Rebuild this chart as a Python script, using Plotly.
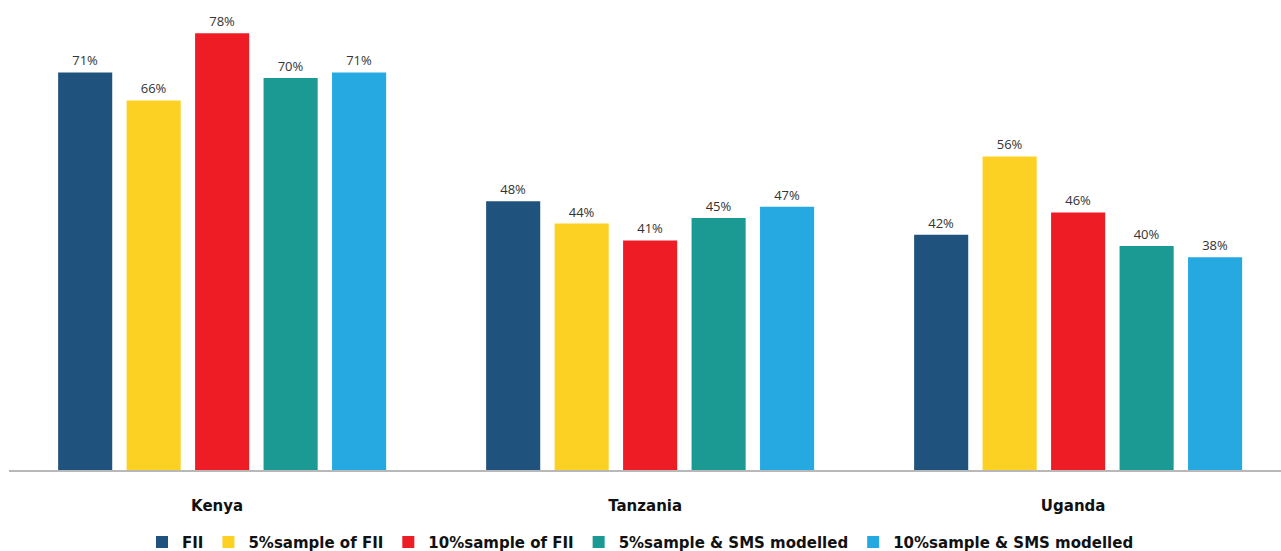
import plotly.graph_objects as go

countries = ["Kenya", "Tanzania", "Uganda"]
series_names = ["FII", "5%sample of FII", "10%sample of FII",
                "5%sample & SMS modelled", "10%sample & SMS modelled"]
fii = [71, 48, 42]
s5_fii = [66, 44, 56]
s10_fii = [78, 41, 46]
s5_sms = [70, 45, 40]
s10_sms = [71, 47, 38]
colors = ["#1f527c", "#fdd123", "#ee1c25", "#1b9a94", "#25a9e0"]

values = [fii, s5_fii, s10_fii, s5_sms, s10_sms]

fig = go.Figure()
for name, vals, col in zip(series_names, values, colors):
    fig.add_trace(go.Bar(
        x=list(range(len(countries))), y=vals, name=name,
        marker=dict(color=col, line=dict(width=0)),
        text=[f"{v}%" for v in vals], textposition="outside",
        textfont=dict(family="Open Sans", size=13, color="#333333"),
        cliponaxis=False,
    ))

fig.update_layout(
    width=1281, height=551,
    margin=dict(l=9, r=0, t=0, b=81, autoexpand=False),
    paper_bgcolor="white", plot_bgcolor="white",
    barmode="group", bargap=0.2, bargroupgap=0.21,
    showlegend=True,
    legend=dict(orientation="h", xanchor="center", x=0.5, xref="container",
                yanchor="middle", y=0.016, yref="container",
                font=dict(family="DejaVu Sans", size=15, color="#111111", weight=700),
                itemwidth=30, traceorder="normal"),
    xaxis=dict(range=[-0.498, 2.474], tickmode="array",
               tickvals=list(range(len(countries))), ticktext=countries,
               showline=True, linecolor="#b8b8b8", linewidth=2,
               showgrid=False, zeroline=False, ticks="",
               ticklabelstandoff=21, ticklabelshift=-5,
               tickfont=dict(family="DejaVu Sans", size=15, color="#111111", weight=700)),
    yaxis=dict(range=[0, 83.93], visible=False, showgrid=False, zeroline=False),
)

fig.write_html("out.html")
